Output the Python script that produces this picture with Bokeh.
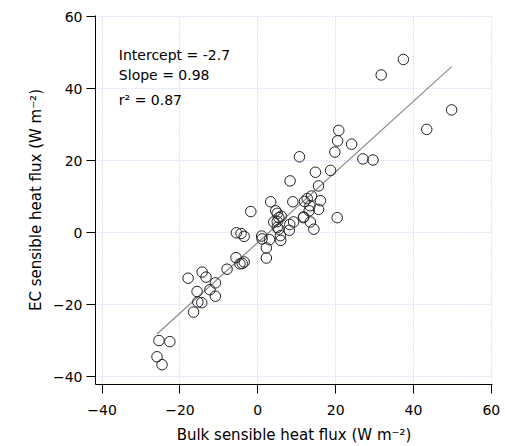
import numpy as np
from bokeh.plotting import figure
from bokeh.models import Range1d, Label, FixedTicker, ColumnDataSource
from bokeh.embed import file_html
from bokeh.resources import INLINE

# ---- data ----
bulk_flux = [37.4, 31.7, 49.8, 43.4, 20.8, 20.5, 24.1, 19.8, 10.7, 27.0,
             29.6, 14.8, 18.7, 8.3, 15.6, 13.8, 16.1, 12.7, 12.0, 9.0,
             3.3, 13.4, -1.8, 4.6, 5.0, 13.2, 15.6, 5.4, 11.7, 11.8,
             20.4, 9.2, 8.2, 13.5, 14.4, 5.0, 5.4, 4.1, 5.8, 5.9,
             1.0, 1.1, 3.0, 2.2, 2.2, -5.5, -4.3, -3.5, -5.6, -4.6,
             -3.5, -4.0, -7.9, -14.3, -13.3, -17.9, -10.9, -12.3, -15.6, -10.9,
             -15.4, -14.4, -16.5, -25.4, -22.6, -25.9, -24.6, 8.1, 6.0, 5.0]
ec_flux = [48.1, 43.8, 34.1, 28.7, 28.4, 25.5, 24.6, 22.4, 21.1, 20.5,
           20.2, 16.8, 17.3, 14.4, 13.0, 10.2, 8.9, 9.5, 8.7, 8.6,
           8.6, 7.5, 5.9, 6.1, 5.4, 6.1, 6.5, 4.2, 4.2, 4.4,
           4.2, 3.0, 2.3, 3.0, 1.0, 1.5, 1.0, 3.0, -0.8, -2.1,
           -0.9, -1.7, -1.9, -4.2, -7.0, 0.0, -0.2, -1.0, -6.9, -8.6,
           -8.1, -8.5, -10.1, -10.9, -12.3, -12.6, -13.9, -15.8, -16.3, -17.6,
           -19.2, -19.4, -22.0, -29.9, -30.2, -34.4, -36.6, 0.7, 4.6, 3.1]
intercept = -2.7
slope = 0.98
r_squared = 0.87
axis_ticks = [-40, -20, 0, 20, 40, 60]
x_label = "Bulk sensible heat flux (W m\u207b\u00b2)"
y_label = "EC sensible heat flux (W m\u207b\u00b2)"

FONT = "DejaVu Sans"

p = figure(width=502, height=446, output_backend="svg", toolbar_location=None,
           x_range=Range1d(-41.7, 60.3), y_range=Range1d(-42.1, 60.3),
           min_border_left=95, min_border_right=10, min_border_top=15,
           min_border_bottom=61)
p.outline_line_color = None
p.background_fill_color = "white"

for ax in (p.xaxis, p.yaxis):
    ax.ticker = FixedTicker(ticks=axis_ticks)
    ax.minor_tick_line_color = None
    ax.major_tick_in = 0
    ax.major_tick_out = 9
    ax.major_tick_line_color = "black"
    ax.axis_line_color = "black"
    ax.major_label_text_font = FONT
    ax.major_label_text_font_size = "14px"
    ax.major_label_text_color = "black"
    ax.major_label_text_line_height = 1.0
    ax.axis_label_text_font = FONT
    ax.axis_label_text_font_size = "15px"
    ax.axis_label_text_font_style = "normal"
    ax.axis_label_text_color = "black"
    ax.axis_label_text_line_height = 1.0

p.xaxis.axis_label = x_label
p.yaxis.axis_label = y_label
p.xaxis.major_label_standoff = 11
p.yaxis.major_label_standoff = 4
p.xaxis.axis_label_standoff = 8
p.yaxis.axis_label_standoff = 5

for g in (p.xgrid, p.ygrid):
    g.ticker = FixedTicker(ticks=axis_ticks)
    g.grid_line_color = "#c4c4f2"
    g.grid_line_dash = "1 2"
    g.grid_line_width = 1

# regression line over the data span
fit_x = [min(bulk_flux), max(bulk_flux)]
fit_y = [intercept + slope * v for v in fit_x]
p.line(fit_x, fit_y, line_color="#8a8a8a", line_width=1.2)

src = ColumnDataSource(dict(x=bulk_flux, y=ec_flux))
p.scatter("x", "y", source=src, marker="circle", size=10.5,
          fill_color=None, line_color="#222222", line_width=1)

stats = [f"Intercept = {intercept}", f"Slope = {slope}", f"r\u00b2 = {r_squared}"]
stat_y = [49.3, 43.8, 36.9]
for txt, yy in zip(stats, stat_y):
    p.add_layout(Label(x=-35.7, y=yy, text=txt, text_font=FONT,
                       text_font_size="14px", text_color="black",
                       text_baseline="alphabetic", text_align="left"))

open("out.html", "w").write(file_html(p, INLINE))
